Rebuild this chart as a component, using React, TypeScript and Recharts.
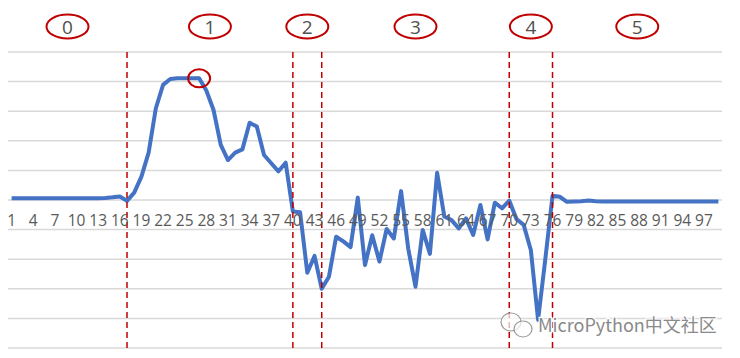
import React from 'react';
import {
  LineChart,
  Line,
  XAxis,
  YAxis,
  CartesianGrid,
  ReferenceLine,
  ReferenceArea,
  ReferenceDot,
  Label,
} from 'recharts';

// sensor trace, one reading per sample
const VALUES = [
  0.06, 0.06, 0.06, 0.06, 0.06, 0.06, 0.06, 0.06, 0.06, 0.06,
  0.06, 0.06, 0.06, 0.07, 0.09, 0.12, -0.03, 0.25, 0.79, 1.6,
  3.1, 3.89, 4.09, 4.11, 4.11, 4.11, 4.11, 3.7, 3.04, 1.86,
  1.35, 1.6, 1.71, 2.61, 2.48, 1.52, 1.24, 0.97, 1.26, -0.39,
  -0.41, -2.46, -1.89, -3.0, -2.59, -1.24, -1.4, -1.59, 0.08, -2.2,
  -1.19, -2.08, -0.98, -1.3, 0.3, -1.65, -2.93, -1.01, -1.82, 0.92,
  -0.56, -0.68, -0.96, -0.62, -1.18, -0.17, -1.33, -0.09, -0.28, -0.02,
  -0.64, -0.84, -1.7, -4.05, -2.0, 0.14, 0.11, -0.06, -0.05, -0.04,
  -0.02, -0.04, -0.05, -0.05, -0.05, -0.05, -0.05, -0.05, -0.05, -0.05,
  -0.05, -0.05, -0.05, -0.05, -0.05, -0.05, -0.05, -0.05, -0.05,
];

const X_TICKS = [
  1, 4, 7, 10, 13, 16, 19, 22, 25, 28, 31, 34, 37, 40, 43, 46, 49, 52, 55,
  58, 61, 64, 67, 70, 73, 76, 79, 82, 85, 88, 91, 94, 97,
];
const Y_TICKS = [-5, -4, -3, -2, -1, 0, 1, 2, 3, 4, 5];

// phase boundaries (sample numbers) and their labels
const BOUNDARIES = [17, 40, 44, 70, 76];
const PHASES = ['0', '1', '2', '3', '4', '5'];
const PEAK_SAMPLE = 27;

const data = VALUES.map((v, i) => ({ idx: i + 1, value: v }));

const WIDTH = 740;
const HEIGHT = 358;
const MARGIN = { top: 52, right: 18, bottom: 0, left: 8 };
const X_AXIS_H = 10;
const X_MIN = 0.5;
const X_MAX = VALUES.length + 0.5;
const Y_MIN = -5;
const Y_MAX = 5;

const PLOT_H = HEIGHT - MARGIN.top - MARGIN.bottom - X_AXIS_H;
const ZERO_Y = MARGIN.top + (PLOT_H * Y_MAX) / (Y_MAX - Y_MIN);

const RED = '#c00000';
const FONT = '"Open Sans", Calibri, sans-serif';

const CategoryTick = (props: any) => {
  const { x, payload } = props;
  return (
    <text
      x={x}
      y={ZERO_Y + 26}
      textAnchor="middle"
      fill="#595959"
      fontSize={15.5}
      fontFamily={FONT}
    >
      {payload.value}
    </text>
  );
};

const phaseBadge = (text: string) => (props: any) => {
  const vb = props.viewBox || {};
  const cx = vb.x + vb.width / 2;
  const cy = vb.y - 25.5;
  return (
    <g>
      <ellipse cx={cx} cy={cy} rx={21} ry={12} fill="#fff" stroke={RED} strokeWidth={2} />
      <text
        x={cx}
        y={cy + 7}
        textAnchor="middle"
        fill="#505050"
        fontSize={19}
        fontFamily={FONT}
      >
        {text}
      </text>
    </g>
  );
};

const edges = [X_MIN, ...BOUNDARIES, X_MAX];

export default function App() {
  return (
    <div
      style={{
        position: 'absolute',
        left: 0,
        top: 0,
        width: WIDTH,
        height: HEIGHT,
        background: '#fff',
        overflow: 'hidden',
      }}
    >
      <LineChart width={WIDTH} height={HEIGHT} data={data} margin={MARGIN}>
        <CartesianGrid vertical={false} stroke="#d9d9d9" strokeWidth={1.5} />
        <XAxis
          dataKey="idx"
          type="number"
          domain={[X_MIN, X_MAX]}
          ticks={X_TICKS}
          interval={0}
          height={X_AXIS_H}
          axisLine={false}
          tickLine={false}
          tick={CategoryTick}
        />
        <YAxis type="number" domain={[Y_MIN, Y_MAX]} ticks={Y_TICKS} hide />
        {PHASES.map((p, i) => (
          <ReferenceArea
            key={p}
            x1={edges[i]}
            x2={edges[i + 1]}
            fillOpacity={0}
            strokeOpacity={0}
          >
            <Label content={phaseBadge(p)} />
          </ReferenceArea>
        ))}
        <Line
          type="linear"
          dataKey="value"
          stroke="#4472c4"
          strokeWidth={4}
          strokeLinejoin="round"
          dot={false}
          activeDot={false}
          isAnimationActive={false}
        />
        {BOUNDARIES.map((b) => (
          <ReferenceLine
            key={b}
            x={b}
            stroke={RED}
            strokeWidth={1.5}
            strokeDasharray="6 4"
          />
        ))}
        <ReferenceDot
          x={PEAK_SAMPLE}
          y={VALUES[PEAK_SAMPLE - 1]}
          shape={(p: any) => (
            <ellipse
              cx={p.cx}
              cy={p.cy}
              rx={11}
              ry={9}
              fill="none"
              stroke={RED}
              strokeWidth={2}
            />
          )}
        />
      </LineChart>
      <svg
        width={240}
        height={40}
        style={{ position: 'absolute', left: 496, top: 306 }}
      >
        <ellipse cx={15} cy={16} rx={10} ry={9} fill="#fff" fillOpacity={0.7} stroke="#9a9a9a" strokeWidth={1.2} />
        <ellipse cx={27} cy={23} rx={9} ry={8} fill="#fff" fillOpacity={0.7} stroke="#9a9a9a" strokeWidth={1.2} />
        <text
          x={42}
          y={25.5}
          fill="#8a8a8a"
          stroke="#fff"
          strokeWidth={2.5}
          paintOrder="stroke"
          fontSize={18}
          fontFamily='"Noto Sans CJK SC", "Noto Sans", sans-serif'
        >
          MicroPython中文社区
        </text>
      </svg>
    </div>
  );
}
